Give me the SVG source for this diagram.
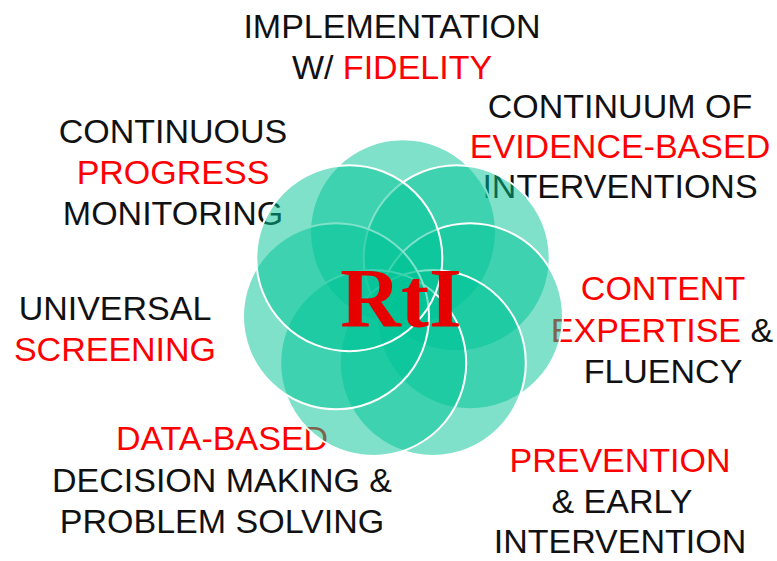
<svg xmlns="http://www.w3.org/2000/svg" width="777" height="561" viewBox="0 0 777 561">
<style>
text{font-family:"Liberation Sans",Arial,sans-serif;font-size:34px;fill:#111;text-anchor:middle}
.r{fill:#FF0000}
.p{fill:#00C496;fill-opacity:0.5;stroke:#fff;stroke-width:2}
.rti{font-family:"Liberation Serif","Times New Roman",serif;font-weight:bold;font-size:84px;fill:#E60000}
</style>
<rect width="777" height="561" fill="#fff"/>
<g id="label-implementation">
<text x="392" y="38">IMPLEMENTATION</text>
<text x="392" y="79">W/ <tspan class="r">FIDELITY</tspan></text>
</g>
<g id="label-continuum">
<text x="620" y="118">CONTINUUM OF</text>
<text x="620" y="158" class="r">EVIDENCE-BASED</text>
<text x="620" y="198">INTERVENTIONS</text>
</g>
<g id="label-progress">
<text x="173" y="143">CONTINUOUS</text>
<text x="173" y="184" class="r">PROGRESS</text>
<text x="173" y="225">MONITORING</text>
</g>
<g id="label-screening">
<text x="115" y="320">UNIVERSAL</text>
<text x="115" y="361" class="r">SCREENING</text>
</g>
<g id="label-content">
<text x="663" y="300" class="r">CONTENT</text>
<text x="662" y="342"><tspan class="r">EXPERTISE</tspan> &amp;</text>
<text x="663" y="383">FLUENCY</text>
</g>
<g id="label-data">
<text x="222" y="450" class="r">DATA-BASED</text>
<text x="222" y="492">DECISION MAKING &amp;</text>
<text x="222" y="533">PROBLEM SOLVING</text>
</g>
<g id="label-prevention">
<text x="620" y="472" class="r">PREVENTION</text>
<text x="622" y="513">&amp; EARLY</text>
<text x="620" y="553">INTERVENTION</text>
</g>
<g id="flower">
<circle class="p" cx="403" cy="232.3" r="93"/>
<circle class="p" cx="456.7" cy="258.2" r="93"/>
<circle class="p" cx="470" cy="316.3" r="93"/>
<circle class="p" cx="432.8" cy="362.9" r="93"/>
<circle class="p" cx="373.2" cy="362.9" r="93"/>
<circle class="p" cx="336" cy="316.3" r="93"/>
<circle class="p" cx="349.3" cy="258.2" r="93"/>
</g>
<g id="center-rti">
<text x="401" y="327" class="rti">RtI</text>
</g>
</svg>
